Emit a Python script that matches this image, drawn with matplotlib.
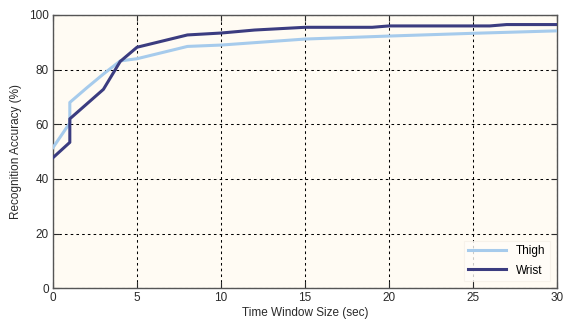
import matplotlib
matplotlib.use("Agg")
import matplotlib.pyplot as plt

plt.rcParams['font.family'] = ['Liberation Sans', 'DejaVu Sans']

# Recognition accuracy vs. time window size
thigh_x = [0, 1, 1, 2, 3, 4, 5, 8, 10, 15, 20, 25, 30]
thigh_y = [51.5, 60.5, 68, 73.3, 78.4, 83.2, 84, 88.5, 89, 91.2, 92.3, 93.3, 94.2]

wrist_x = [0, 1, 1, 3, 4, 5, 8, 10, 12, 15, 19, 20, 26, 27, 30]
wrist_y = [47.8, 53.4, 62, 72.8, 83, 88.2, 92.7, 93.4, 94.5, 95.5, 95.5, 96, 96, 96.5, 96.5]

x_ticks = [0, 5, 10, 15, 20, 25, 30]
y_ticks = [0, 20, 40, 60, 80, 100]

fig = plt.figure(figsize=(5.64, 3.26), dpi=100)
ax = fig.add_axes([0.094, 0.1156, 0.8936, 0.8384])
ax.set_facecolor('#FFFBF3')

ax.plot(thigh_x, thigh_y, color='#A6CBEC', lw=2.2, label='Thigh', zorder=3)
ax.plot(wrist_x, wrist_y, color='#3B3C80', lw=2.2, label='Wrist', zorder=4)

ax.set_xlim(0, 30)
ax.set_ylim(0, 100)
ax.set_xticks(x_ticks)
ax.set_yticks(y_ticks)
ax.tick_params(direction='in', length=4, width=0.8, labelsize=8.5, colors='#2a2a2a',
               top=True, right=True, pad=3)
ax.grid(True, color='black', linestyle=(0, (2.5, 3)), linewidth=0.75)

for s in ax.spines.values():
    s.set_color('#555555')
    s.set_linewidth(1.0)

ax.set_xlabel('Time Window Size (sec)', fontsize=8.5, color='#2a2a2a', labelpad=2)
ax.set_ylabel('Recognition Accuracy (%)', fontsize=8.5, color='#2a2a2a', labelpad=5)

leg = ax.legend(loc='lower right', fontsize=8.5, frameon=True, handlelength=3.2,
                borderaxespad=0.6, labelspacing=0.6, fancybox=False)
leg.get_frame().set_facecolor('#FFFDF9')
leg.get_frame().set_edgecolor('#F5F0E8')
leg.get_frame().set_linewidth(0.8)

fig.savefig('out.png', dpi=100)
